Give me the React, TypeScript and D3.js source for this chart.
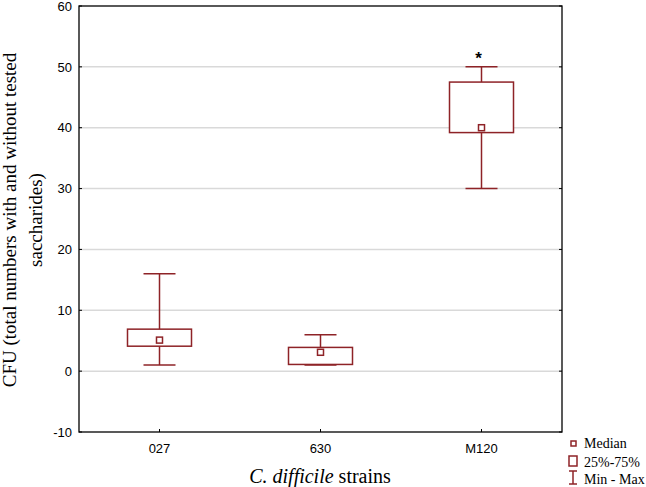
import React from 'react';
import * as d3 from 'd3';

// Box plot data per strain
const strains = ['027', '630', 'M120'];
const minValues = [1, 1, 30];
const q1Values = [4.1, 1.1, 39.2];
const medianValues = [5.1, 3.1, 40];
const q3Values = [6.9, 3.9, 47.5];
const maxValues = [16, 6, 50];
const yTicks = [-10, 0, 10, 20, 30, 40, 50, 60];
const gridValues = [0, 10, 20, 30, 40, 50];
const significant = ['M120'];

const W = 646;
const H = 487;
const margin = { top: 6, right: 84, bottom: 55, left: 79 };
const innerW = W - margin.left - margin.right;
const innerH = H - margin.top - margin.bottom;

const red = '#8e2327';
const serif = '"Liberation Serif", "Times New Roman", serif';
const sans = '"Liberation Sans", Arial, sans-serif';

export default function App() {
  const x = d3.scaleBand().domain(strains).range([0, innerW]).padding(0);
  const y = d3.scaleLinear().domain([-10, 60]).range([innerH, 0]);

  const boxW = 64;
  const capW = 32;
  const medSize = 6;

  return (
    <svg
      width={W}
      height={H}
      style={{ position: 'absolute', left: 0, top: 0, background: '#fff' }}
    >
      <g transform={`translate(${margin.left},${margin.top})`}>
        {/* gridlines */}
        {gridValues.map((v) => (
          <line key={v} x1={0} x2={innerW} y1={y(v)} y2={y(v)} stroke="#d9d9d9" strokeWidth={1.5} />
        ))}

        {/* boxes */}
        {strains.map((s, i) => {
          const cx = (x(s) as number) + x.bandwidth() / 2;
          return (
            <g key={s} fill="none" stroke={red} strokeWidth={1.5}>
              <line x1={cx} x2={cx} y1={y(maxValues[i])} y2={y(q3Values[i])} />
              <line x1={cx} x2={cx} y1={y(q1Values[i])} y2={y(minValues[i])} />
              <line x1={cx - capW / 2} x2={cx + capW / 2} y1={y(maxValues[i])} y2={y(maxValues[i])} />
              <line x1={cx - capW / 2} x2={cx + capW / 2} y1={y(minValues[i])} y2={y(minValues[i])} />
              <rect
                x={cx - boxW / 2}
                y={y(q3Values[i])}
                width={boxW}
                height={y(q1Values[i]) - y(q3Values[i])}
                fill="#fff"
              />
              <rect
                x={cx - medSize / 2}
                y={y(medianValues[i]) - medSize / 2}
                width={medSize}
                height={medSize}
                fill="#fff"
              />
              {significant.includes(s) && (
                <text
                  x={cx - 3}
                  y={y(maxValues[i]) - 3}
                  textAnchor="middle"
                  fontFamily={sans}
                  fontWeight="bold"
                  fontSize={17}
                  fill="#000"
                  stroke="none"
                >
                  *
                </text>
              )}
            </g>
          );
        })}

        {/* frame */}
        <rect x={0} y={0} width={innerW} height={innerH} fill="none" stroke="#000" strokeWidth={1.3} />

        {/* y ticks */}
        {yTicks.map((t) => (
          <g key={t}>
            <line x1={0} x2={3} y1={y(t)} y2={y(t)} stroke="#000" />
            <line x1={innerW - 3} x2={innerW} y1={y(t)} y2={y(t)} stroke="#000" />
            <text
              x={-7}
              y={y(t)}
              dy="0.36em"
              textAnchor="end"
              fontFamily={sans}
              fontSize={13}
              fill="#000"
            >
              {t}
            </text>
          </g>
        ))}

        {/* x ticks */}
        {strains.map((s) => {
          const cx = (x(s) as number) + x.bandwidth() / 2;
          return (
            <g key={s}>
              <line x1={cx} x2={cx} y1={innerH} y2={innerH - 3} stroke="#000" />
              <text
                x={cx}
                y={innerH + 21}
                textAnchor="middle"
                fontFamily={sans}
                fontSize={13}
                fill="#000"
              >
                {s}
              </text>
            </g>
          );
        })}
      </g>

      {/* axis titles */}
      <text
        x={320}
        y={483}
        textAnchor="middle"
        fontFamily={serif}
        fontSize={20}
        fill="#000"
      >
        <tspan fontStyle="italic">C. difficile</tspan> strains
      </text>
      <g transform="translate(0,220) rotate(-90)">
        <text x={0} y={16} textAnchor="middle" fontFamily={serif} fontSize={19} fill="#000">
          CFU (total numbers with and without tested
        </text>
        <text x={0} y={42} textAnchor="middle" fontFamily={serif} fontSize={19} fill="#000">
          saccharides)
        </text>
      </g>

      {/* legend */}
      <g fontFamily={serif} fontSize={14} fill="#000">
        <rect x={571} y={441} width={5} height={5} fill="none" stroke={red} strokeWidth={1.5} />
        <text x={584} y={448}>Median</text>
        <rect x={569} y={456} width={8} height={10} fill="none" stroke={red} strokeWidth={1.5} />
        <text x={584} y={467}>25%-75%</text>
        <g stroke={red} strokeWidth={1.5}>
          <line x1={573} x2={573} y1={471} y2={484} />
          <line x1={569} x2={577} y1={471} y2={471} />
          <line x1={569} x2={577} y1={484} y2={484} />
        </g>
        <text x={584} y={484}>Min - Max</text>
      </g>
    </svg>
  );
}
